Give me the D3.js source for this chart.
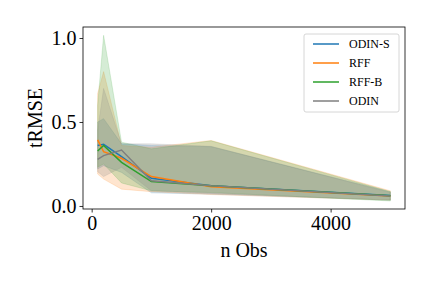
<!DOCTYPE html>
<html>
<head>
<meta charset="utf-8">
<script src="https://cdn.jsdelivr.net/npm/d3@7"></script>
<style>
  body { margin: 0; background: #fff; }
  text { font-family: "Liberation Serif", "DejaVu Serif", serif; }
</style>
</head>
<body>
<svg width="432" height="288"></svg>
<script>
const nObs = [100, 200, 500, 1000, 2000, 5000];
const seriesNames = ["ODIN-S", "RFF", "RFF-B", "ODIN"];
const colors = ["#1f77b4", "#ff7f0e", "#2ca02c", "#7f7f7f"];

// mean and band (lower / upper) for each series
const odinSMean = [0.36, 0.367, 0.294, 0.165, 0.12, 0.062];
const odinSLow = [0.22, 0.24, 0.2, 0.078, 0.07, 0.035];
const odinSHigh = [0.5, 0.52, 0.37, 0.36, 0.353, 0.085];

const rffMean = [0.393, 0.323, 0.284, 0.175, 0.114, 0.06];
const rffLow = [0.19, 0.16, 0.1, 0.085, 0.068, 0.035];
const rffHigh = [0.67, 0.8, 0.36, 0.35, 0.39, 0.09];

const rffBMean = [0.327, 0.36, 0.26, 0.145, 0.12, 0.061];
const rffBLow = [0.23, 0.25, 0.137, 0.09, 0.08, 0.03];
const rffBHigh = [0.6, 1.016, 0.38, 0.34, 0.388, 0.085];

const odinMean = [0.278, 0.3, 0.333, 0.15, 0.12, 0.06];
const odinLow = [0.204, 0.175, 0.23, 0.09, 0.075, 0.035];
const odinHigh = [0.45, 0.7, 0.37, 0.37, 0.355, 0.08];

const xTicks = [0, 2000, 4000];
const yTicks = [0.0, 0.5, 1.0];

const series = [
  { mean: odinSMean, low: odinSLow, high: odinSHigh },
  { mean: rffMean, low: rffLow, high: rffHigh },
  { mean: rffBMean, low: rffBLow, high: rffBHigh },
  { mean: odinMean, low: odinLow, high: odinHigh },
];

const svg = d3.select("svg");
const mLeft = 83, mRight = 405, mTop = 27, mBottom = 209;

const x = d3.scaleLinear().domain([-145, 5245]).range([mLeft, mRight]);
const y = d3.scaleLinear().domain([-0.018, 1.0655]).range([mBottom, mTop]);

const g = svg.append("g");

const area = d3.area()
  .x((d, i) => x(nObs[i]))
  .y0((d) => y(d[0]))
  .y1((d) => y(d[1]));

const line = d3.line()
  .x((d, i) => x(nObs[i]))
  .y((d) => y(d));

series.forEach((s, k) => {
  const band = s.low.map((lo, i) => [lo, s.high[i]]);
  g.append("path")
    .attr("d", area(band))
    .attr("fill", colors[k])
    .attr("fill-opacity", 0.2)
    .attr("stroke", colors[k])
    .attr("stroke-opacity", 0.2)
    .attr("stroke-width", 0.8);
});

series.forEach((s, k) => {
  g.append("path")
    .attr("d", line(s.mean))
    .attr("fill", "none")
    .attr("stroke", colors[k])
    .attr("stroke-width", 1.5);
});

// frame
svg.append("rect")
  .attr("x", mLeft).attr("y", mTop)
  .attr("width", mRight - mLeft).attr("height", mBottom - mTop)
  .attr("fill", "none").attr("stroke", "#000").attr("stroke-width", 0.8);

const xAxis = svg.append("g")
  .attr("transform", `translate(0,${mBottom})`)
  .call(d3.axisBottom(x).tickValues(xTicks).tickSize(3.5).tickPadding(3).tickFormat(d3.format("d")));
const yAxis = svg.append("g")
  .attr("transform", `translate(${mLeft},0)`)
  .call(d3.axisLeft(y).tickValues(yTicks).tickSize(3.5).tickPadding(3).tickFormat(d3.format(".1f")));

[xAxis, yAxis].forEach((a) => {
  a.select(".domain").remove();
  a.selectAll(".tick line").attr("stroke", "#000").attr("stroke-width", 0.8);
  a.selectAll(".tick text").attr("font-size", 20).attr("fill", "#000")
    .style("font-family", '"Liberation Serif", serif');
});

svg.append("text")
  .attr("x", (mLeft + mRight) / 2).attr("y", 257)
  .attr("text-anchor", "middle").attr("font-size", 20)
  .text("n Obs");

svg.append("text")
  .attr("transform", `translate(42,${(mTop + mBottom) / 2}) rotate(-90)`)
  .attr("text-anchor", "middle").attr("font-size", 20)
  .text("tRMSE");

// legend
const legend = svg.append("g");
legend.append("rect")
  .attr("x", 304).attr("y", 34).attr("width", 95).attr("height", 78)
  .attr("rx", 2).attr("fill", "#fff").attr("fill-opacity", 0.8)
  .attr("stroke", "#ccc").attr("stroke-width", 0.8);

seriesNames.forEach((name, k) => {
  const ly = 44 + k * 19;
  legend.append("line")
    .attr("x1", 313).attr("x2", 339).attr("y1", ly).attr("y2", ly)
    .attr("stroke", colors[k]).attr("stroke-width", 1.5);
  legend.append("text")
    .attr("x", 349).attr("y", ly + 4)
    .attr("font-size", 12)
    .text(name);
});
</script>
</body>
</html>
